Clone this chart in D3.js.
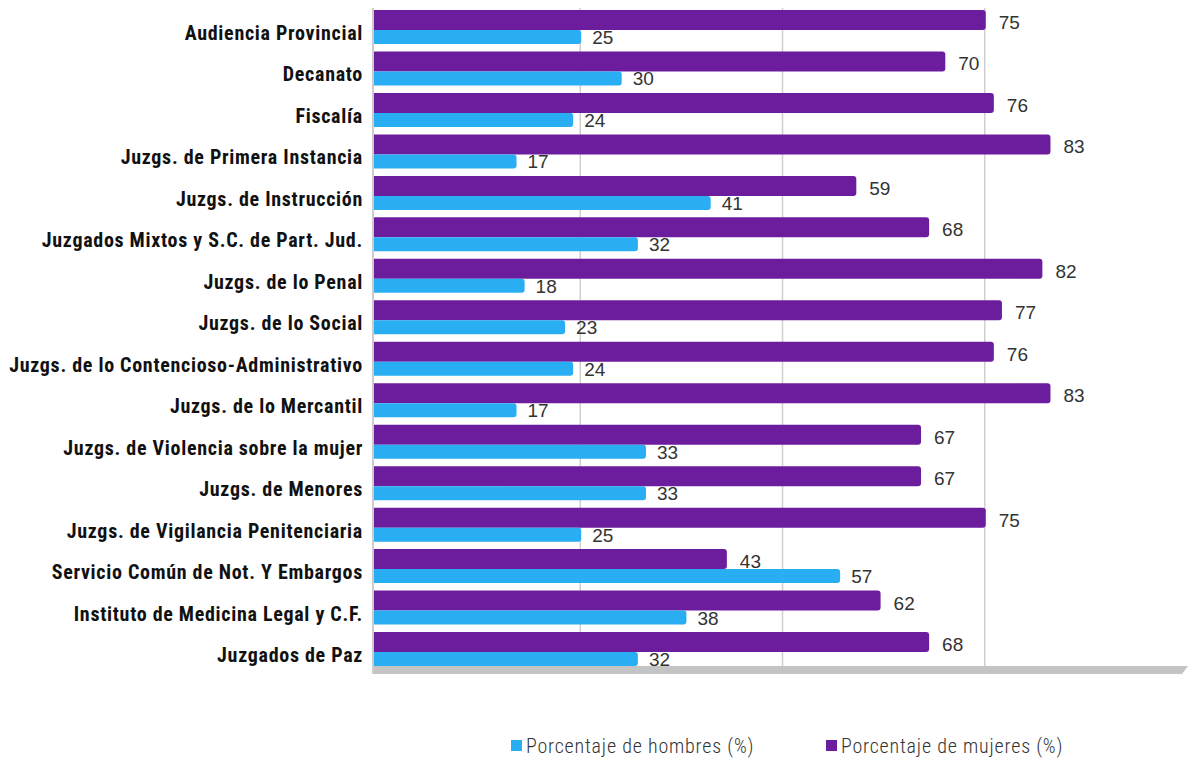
<!DOCTYPE html>
<html><head><meta charset="utf-8">
<script src="https://cdn.jsdelivr.net/npm/d3@7/dist/d3.min.js"></script>
<style>body{margin:0;background:#fff}svg{display:block}</style>
</head><body><div id="chart"></div>
<script>
const categories = ["Audiencia Provincial","Decanato","Fiscalía","Juzgs. de Primera Instancia","Juzgs. de Instrucción","Juzgados Mixtos y S.C. de Part. Jud.","Juzgs. de lo Penal","Juzgs. de lo Social","Juzgs. de lo Contencioso-Administrativo","Juzgs. de lo Mercantil","Juzgs. de Violencia sobre la mujer","Juzgs. de Menores","Juzgs. de Vigilancia Penitenciaria","Servicio Común de Not. Y Embargos","Instituto de Medicina Legal y C.F.","Juzgados de Paz"];
const mujeres = [75,70,76,83,59,68,82,77,76,83,67,67,75,43,62,68];
const hombres = [25,30,24,17,41,32,18,23,24,17,33,33,25,57,38,32];
const gridTicks = [25,50,75];
const seriesNames = ["Porcentaje de hombres (%)","Porcentaje de mujeres (%)"];
const colors = {h:"#2aaef3", m:"#6c1d9e"};

const W=1190,H=758;
const svg=d3.select("#chart").append("svg").attr("width",W).attr("height",H);
const x=d3.scaleLinear().domain([0,100]).range([379,1188]);
const y=d3.scaleBand().domain(categories).range([10,10+16*41.47]);
const axisX=373, floorTop=666, floorBot=674;

// gridlines
svg.append("g").selectAll("line").data(gridTicks).join("line")
 .attr("x1",d=>x(d)-1).attr("x2",d=>x(d)-1).attr("y1",8).attr("y2",floorTop)
 .attr("stroke","#cfcfcf").attr("stroke-width",1.5);
// floor
svg.append("path").attr("d",`M${axisX},${floorTop} L${W-2},${floorTop} L${W-8},${floorBot} L${axisX},${floorBot} Z`).attr("fill","#c4c4c4");
// left axis
svg.append("line").attr("x1",axisX).attr("x2",axisX).attr("y1",8).attr("y2",floorBot).attr("stroke","#cccccc").attr("stroke-width",2);

const bars=svg.append("g");
function barPath(x0,x1,y0,h){const r=3;return `M${x0},${y0} L${x1-r},${y0} Q${x1},${y0} ${x1},${y0+r} L${x1},${y0+h-r} Q${x1},${y0+h} ${x1-r},${y0+h} L${x0},${y0+h} Z`;}
categories.forEach((c,i)=>{
  const t=y(c);
  bars.append("path").attr("d",barPath(axisX+1,x(mujeres[i]),t,20)).attr("fill",colors.m);
  bars.append("path").attr("d",barPath(axisX+1,x(hombres[i]),t+20,14)).attr("fill",colors.h);
});
const lab=svg.append("g").attr("font-family","Liberation Sans, Arial, sans-serif").attr("font-size",19).attr("fill","#333");
categories.forEach((c,i)=>{
  const t=y(c);
  lab.append("text").attr("x",x(mujeres[i])+13).attr("y",t+19).text(mujeres[i]);
  lab.append("text").attr("x",x(hombres[i])+11).attr("y",t+34).text(hombres[i]);
});
// category labels
svg.append("g").selectAll("text").data(categories).join("text")
 .attr("x",363).attr("y",d=>y(d)+30).attr("text-anchor","end")
 .attr("font-family","'Roboto Condensed','Liberation Sans Narrow','Noto Sans',sans-serif").attr("font-weight","bold").attr("font-size",20).attr("letter-spacing","0.7px").attr("fill","#111")
 .text(d=>d);
// legend
const leg=svg.append("g").attr("font-family","'Roboto Condensed','Liberation Sans Narrow',sans-serif").attr("font-size",20).attr("font-weight",300).attr("letter-spacing","0.8px").attr("fill","#333");
[[511,colors.h,seriesNames[0]],[826,colors.m,seriesNames[1]]].forEach(([lx,col,name])=>{
  leg.append("rect").attr("x",lx).attr("y",740).attr("width",11).attr("height",11).attr("fill",col);
  leg.append("text").attr("x",lx+15).attr("y",753).text(name);
});
</script></body></html>
